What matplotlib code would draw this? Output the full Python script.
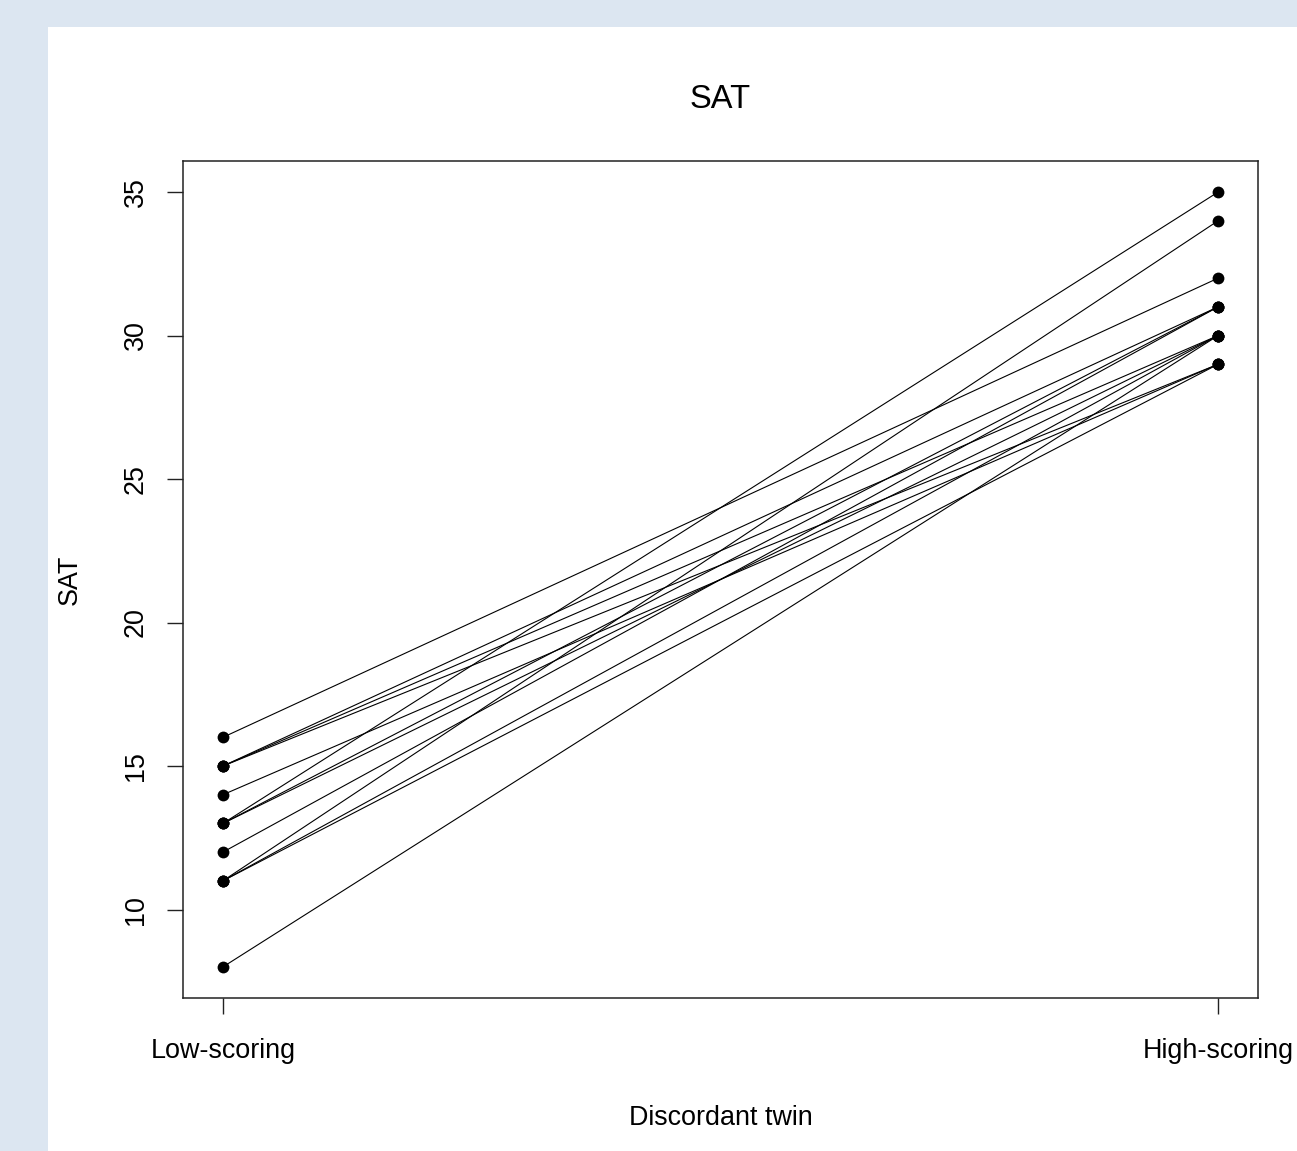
import matplotlib
matplotlib.use("Agg")
import matplotlib.pyplot as plt
from matplotlib.patches import Rectangle

plt.rcParams['font.family'] = ['Liberation Sans', 'DejaVu Sans']

# SAT scores of each discordant twin pair
low_scoring = [16, 15, 15, 15, 14, 13, 13, 13, 12, 11, 11, 11, 8]
high_scoring = [32, 31, 30, 29, 29, 35, 31, 30, 31, 34, 30, 29, 30]
groups = ['Low-scoring', 'High-scoring']
y_ticks = [10, 15, 20, 25, 30, 35]

fig = plt.figure(figsize=(12.97, 11.51), dpi=100, facecolor='#dce6f1')
fig.patches.append(Rectangle((48 / 1297, 0), 1, 1 - 27 / 1151, transform=fig.transFigure,
                             facecolor='white', edgecolor='none', zorder=-10))

ax = fig.add_axes([183 / 1297, 1 - 998 / 1151, (1258 - 183) / 1297, (998 - 161) / 1151])
ax.set_zorder(5)

for lo, hi in zip(low_scoring, high_scoring):
    ax.plot([1, 2], [lo, hi], color='black', lw=0.8, marker='o', ms=8.5,
            markeredgewidth=0, solid_capstyle='butt')

ax.set_xlim(0.96, 2.04)
ax.set_ylim(6.92, 36.08)
ax.set_xticks([1, 2])
ax.set_xticklabels(groups)
ax.set_yticks(y_ticks)
ax.set_yticklabels([str(t) for t in y_ticks], rotation=90, va='center')

ax.tick_params(axis='both', direction='out', length=11.5, width=1.0, labelsize=19.4, color='#222222')
ax.tick_params(axis='x', pad=17)
ax.tick_params(axis='y', pad=13)
for s in ax.spines.values():
    s.set_linewidth(1.1)
    s.set_color('#222222')

ax.set_title('SAT', fontsize=23.5, pad=38)
ax.set_xlabel('Discordant twin', fontsize=19.4, labelpad=30)
ax.set_ylabel('SAT', fontsize=19.4, labelpad=29)

fig.savefig('out.png', dpi=100, facecolor=fig.get_facecolor())
